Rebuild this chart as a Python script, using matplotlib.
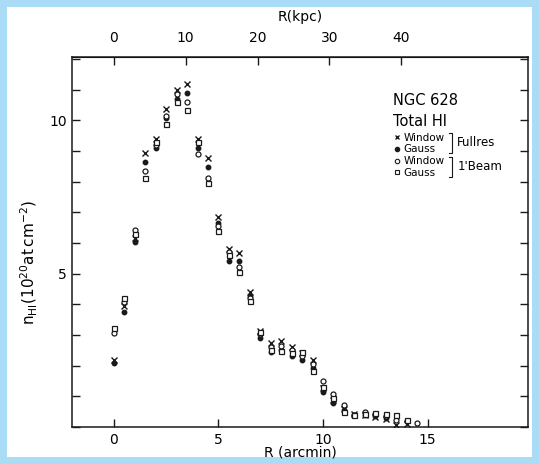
import numpy as np
import matplotlib
matplotlib.use("Agg")
import matplotlib.pyplot as plt
from matplotlib.patches import Rectangle
from matplotlib.ticker import FixedLocator, MultipleLocator

# radius in arcmin
r_arcmin = [0, 0.5, 1, 1.5, 2, 2.5, 3, 3.5, 4, 4.5, 5, 5.5, 6, 6.5, 7, 7.5,
            8, 8.5, 9, 9.5, 10, 10.5, 11, 11.5, 12, 12.5, 13, 13.5, 14, 14.5]
nan = np.nan
# full resolution, window / gauss
full_window = [2.18, 3.94, 6.16, 8.93, 9.40, 10.36, 11.0, 11.2, 9.40, 8.76, 6.84, 5.80,
               5.67, 4.40, 3.12, 2.74, 2.80, 2.60, 2.40, 2.18, 1.27, 0.88, 0.60, 0.42,
               0.40, 0.33, 0.25, 0.07, 0.10, nan]
full_gauss = [2.08, 3.75, 6.03, 8.63, 9.10, 10.07, 10.7, 10.9, 9.10, 8.47, 6.65, 5.42,
              5.40, 4.27, 2.90, 2.45, 2.50, 2.30, 2.20, 1.93, 1.14, 0.78, 0.55, 0.38,
              0.38, 0.35, 0.30, nan, nan, nan]
# 1' beam, window / gauss
beam_window = [3.07, 4.07, 6.42, 8.34, 9.20, 10.16, 10.85, 10.6, 8.92, 8.11, 6.55, 5.70,
               5.22, 4.20, 3.05, 2.62, 2.65, 2.50, 2.30, 2.05, 1.50, 1.07, 0.72, 0.40,
               0.50, 0.43, 0.36, 0.23, 0.20, 0.12]
beam_gauss = [3.22, 4.20, 6.30, 8.11, 9.30, 9.90, 10.6, 10.33, 9.30, 7.95, 6.40, 5.60,
              5.07, 4.10, 3.10, 2.52, 2.47, 2.40, 2.45, 1.82, 1.32, 0.95, 0.49, 0.38,
              0.42, 0.47, 0.43, 0.38, 0.24, nan]

KPC_PER_ARCMIN = 2.91

fig = plt.figure(figsize=(5.3901, 4.6401), dpi=100, facecolor="#aadcf6")
fig.patches.append(Rectangle((7 / 539, 7 / 464), 525 / 539, 450 / 464,
                             transform=fig.transFigure, facecolor="white",
                             edgecolor="none", zorder=-10))
ax = fig.add_axes([72 / 539, 37 / 464, 456 / 539, 370 / 464])
ax.set_facecolor("white")

ink = "#1a1a1a"
ax.plot(r_arcmin, full_window, ls="none", marker="x", ms=4.2, mew=1.0, color=ink)
ax.plot(r_arcmin, full_gauss, ls="none", marker="o", ms=3.2, color=ink)
ax.plot(r_arcmin, beam_window, ls="none", marker="o", ms=3.6, mfc="white", mec=ink, mew=0.9)
ax.plot(r_arcmin, beam_gauss, ls="none", marker="s", ms=3.6, mfc="white", mec=ink, mew=0.9)

ax.set_xlim(-2, 19.8)
ax.set_ylim(0, 12.07)
ax.xaxis.set_major_locator(FixedLocator([0, 5, 10, 15]))
ax.yaxis.set_major_locator(FixedLocator([5, 10]))
ax.yaxis.set_minor_locator(MultipleLocator(1))
ax.tick_params(which="both", direction="in", length=6, width=1, color=ink,
               labelsize=10, right=True, top=False)
ax.tick_params(axis="x", pad=4)
for s in ax.spines.values():
    s.set_linewidth(1.1)
    s.set_color(ink)

ax.set_xlabel("R (arcmin)", fontsize=10, labelpad=-1)
ax.set_ylabel(r"$\mathregular{n_{HI}(10^{20}at\,cm^{-2})}$", fontsize=11)
ax.yaxis.set_label_coords(-0.07, 0.445)

sec = ax.secondary_xaxis("top", functions=(lambda a: a * KPC_PER_ARCMIN,
                                           lambda k: k / KPC_PER_ARCMIN))
sec.set_xticks([0, 10, 20, 30, 40])
sec.tick_params(direction="in", length=6, width=1, color=ink, labelsize=10, pad=9)
sec.set_xlabel("R(kpc)", fontsize=10, labelpad=7)

# annotation block
x0 = 0.705
ax.text(x0, 0.870, "NGC 628", transform=ax.transAxes, fontsize=10.5)
ax.text(x0, 0.813, "Total HI", transform=ax.transAxes, fontsize=10.5)
rows = [("x", "Window", 0.774), ("o", "Gauss", 0.742), ("o_", "Window", 0.710), ("s", "Gauss", 0.678)]
mx = x0 + 0.008
for mk, lab, yy in rows:
    if mk == "x":
        ax.plot([mx], [yy + 0.01], transform=ax.transAxes, marker="x", ms=3.5, mew=1, color=ink, clip_on=False)
    elif mk == "o":
        ax.plot([mx], [yy + 0.01], transform=ax.transAxes, marker="o", ms=3, color=ink, clip_on=False)
    elif mk == "o_":
        ax.plot([mx], [yy + 0.01], transform=ax.transAxes, marker="o", ms=3.2, mfc="white", mec=ink, mew=0.8, clip_on=False)
    else:
        ax.plot([mx], [yy + 0.01], transform=ax.transAxes, marker="s", ms=3.2, mfc="white", mec=ink, mew=0.8, clip_on=False)
    ax.text(mx + 0.014, yy, lab, transform=ax.transAxes, fontsize=7.5)
bx = x0 + 0.128
for y0, y1, lab in [(0.772, 0.742, "Fullres"), (0.708, 0.678, "1'Beam")]:
    ax.plot([bx - 0.006, bx, bx, bx - 0.006], [y0 + 0.022, y0 + 0.022, y1 - 0.002, y1 - 0.002],
            transform=ax.transAxes, color=ink, lw=0.8)
    ax.text(bx + 0.012, (y0 + y1) / 2 + 0.002, lab, transform=ax.transAxes, fontsize=8.5)

fig.savefig("out.png", dpi=100, facecolor=fig.get_facecolor())
